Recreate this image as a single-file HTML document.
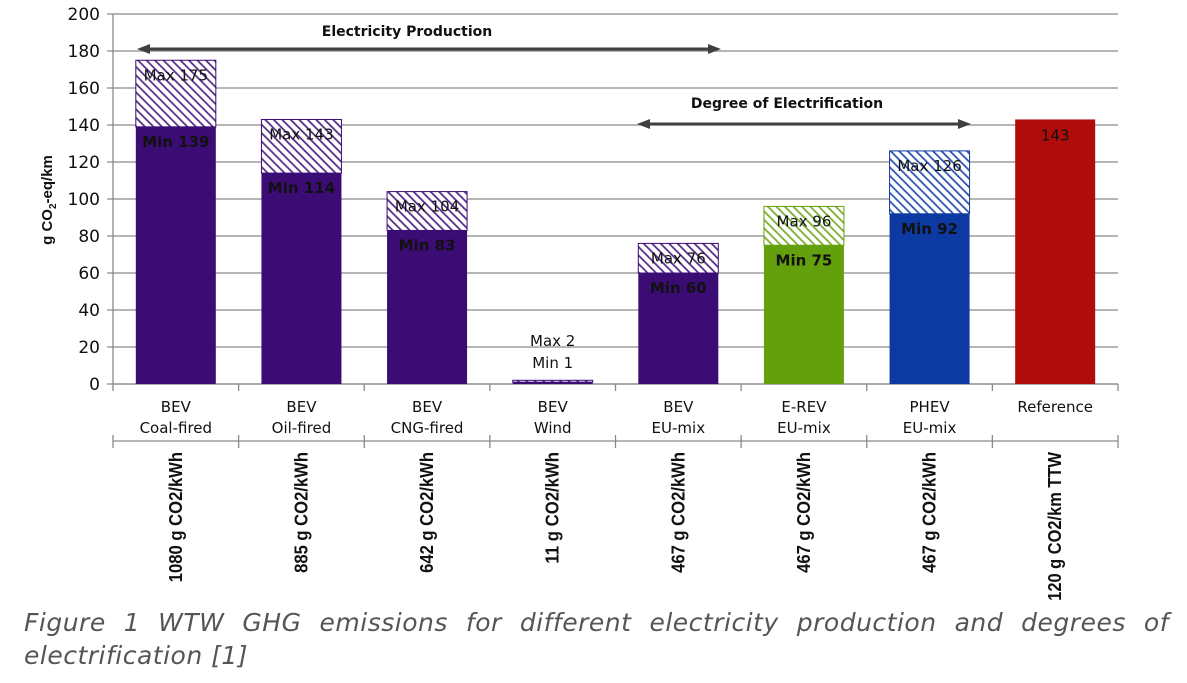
<!DOCTYPE html>
<html><head><meta charset="utf-8"><style>
body{margin:0;background:#fff;width:1187px;height:683px;overflow:hidden;position:relative}
#cap{position:absolute;left:24px;top:606px;width:1145px;font-family:"DejaVu Sans",sans-serif;font-style:italic;font-size:25px;color:#555;text-align:justify;text-align-last:left;line-height:33px;letter-spacing:0.5px}
</style></head><body>
<svg id="chart" width="1187" height="683" style="position:absolute;left:0;top:0" font-family="'DejaVu Sans','Liberation Sans',sans-serif"></svg>
<div id="cap">Figure 1 WTW GHG emissions for different electricity production and degrees of electrification [1]</div>
<script>
const categories=[["BEV","Coal-fired"],["BEV","Oil-fired"],["BEV","CNG-fired"],["BEV","Wind"],["BEV","EU-mix"],["E-REV","EU-mix"],["PHEV","EU-mix"],["Reference"]];
const minValues=[139,114,83,1,60,75,92,143];
const maxValues=[175,143,104,2,76,96,126,143];
const intensityLabels=["1080 g CO2/kWh","885 g CO2/kWh","642 g CO2/kWh","11 g CO2/kWh","467 g CO2/kWh","467 g CO2/kWh","467 g CO2/kWh","120 g CO2/km TTW"];
const yTicks=[0,20,40,60,80,100,120,140,160,180,200];
const colors=["#3a0c74","#3a0c74","#3a0c74","#3a0c74","#3a0c74","#64a00e","#0d3aa2","#b00c0c"];
const svg=document.getElementById('chart');const NS="http://www.w3.org/2000/svg";
const X0=113,X1=1118,Y0=384,Y1=14;
const y=v=>Y0-(v/200)*(Y0-Y1);
const bw=(X1-X0)/categories.length;
const xc=i=>X0+bw*(i+0.5);
function mk(t,a,p){const e=document.createElementNS(NS,t);for(const k in a)e.setAttribute(k,a[k]);(p||svg).appendChild(e);return e;}
const defs=mk('defs',{});
colors.forEach((c,i)=>{const p=mk('pattern',{id:'h'+i,patternUnits:'userSpaceOnUse',width:6,height:6,patternTransform:'rotate(-45)'},defs);mk('rect',{x:0,y:0,width:6,height:6,fill:'#fff'},p);mk('rect',{x:0,y:0,width:1.8,height:6,fill:c,opacity:0.85},p);});
yTicks.forEach(t=>{const l=mk('line',{x1:X0-6,x2:X1,y1:y(t),y2:y(t),stroke:'#8a8a8a','stroke-width':1.3});


const tx=mk('text',{x:100,y:y(t)+6,'text-anchor':'end','font-size':17,fill:'#111'});tx.textContent=t;

});
mk('line',{x1:X0,x2:X0,y1:Y1,y2:Y0,stroke:'#8a8a8a','stroke-width':1.3});
const yt=mk('text',{transform:'translate(52,200) rotate(-90)','text-anchor':'middle','font-size':15,'font-weight':'bold',fill:'#111','font-family':'Liberation Sans,sans-serif'});
yt.innerHTML='g CO<tspan font-size="10" dy="4">2</tspan><tspan dy="-4">-eq/km</tspan>';


[Y0,441].forEach(L=>{mk('line',{x1:X0,x2:X1,y1:L,y2:L,stroke:'#8a8a8a','stroke-width':1.3});
for(let i=0;i<=categories.length;i++)mk('line',{x1:X0+bw*i,x2:X0+bw*i,y1:L-(L==441?6:0),y2:L+7,stroke:'#8a8a8a','stroke-width':1.3});});
categories.forEach((c,i)=>{const bx=xc(i)-40;
if(maxValues[i]>minValues[i]){const r=mk('rect',{x:bx,y:y(maxValues[i]),width:80,height:y(minValues[i])-y(maxValues[i]),fill:'url(#h'+i+')',stroke:colors[i],'stroke-width':1});

}
const b=mk('rect',{x:bx,y:y(minValues[i]),width:80,height:y(0)-y(minValues[i]),fill:colors[i]});


const small=(y(0)-y(maxValues[i]))<30;
if(i==7){const t=mk('text',{x:xc(i),y:y(maxValues[i])+21,'text-anchor':'middle','font-size':15,fill:'#111'});t.textContent=maxValues[i];}
else if(small){let t=mk('text',{x:xc(i),y:346,'text-anchor':'middle','font-size':15,fill:'#111'});t.textContent='Max '+maxValues[i];
t=mk('text',{x:xc(i),y:368,'text-anchor':'middle','font-size':15,fill:'#111'});t.textContent='Min '+minValues[i];}
else{let t=mk('text',{x:xc(i),y:y(maxValues[i])+20,'text-anchor':'middle','font-size':15,fill:'#111'});t.textContent='Max '+maxValues[i];
t=mk('text',{x:xc(i),y:y(minValues[i])+20,'text-anchor':'middle','font-size':15,'font-weight':'bold',fill:'#111'});t.textContent='Min '+minValues[i];}
c.forEach((s,j)=>{const t=mk('text',{x:xc(i),y:412+j*21,'text-anchor':'middle','font-size':15,fill:'#111'});t.textContent=s;

});
const r=mk('text',{transform:`translate(${xc(i)+6},452) rotate(-90)`,'text-anchor':'end','font-size':18,'font-family':'Liberation Sans,sans-serif','font-weight':'bold',fill:'#111',textLength:intensityLabels[i].length*9.3,lengthAdjust:'spacingAndGlyphs'});
r.textContent=intensityLabels[i];

});
function arrow(x1,x2,yy,label,lx,ly,name){const g=mk('g',{});


mk('line',{x1:x1+10,x2:x2-10,y1:yy,y2:yy,stroke:'#404040','stroke-width':3},g);
mk('polygon',{points:`${x1},${yy} ${x1+13},${yy-5} ${x1+13},${yy+5}`,fill:'#404040'},g);
mk('polygon',{points:`${x2},${yy} ${x2-13},${yy-5} ${x2-13},${yy+5}`,fill:'#404040'},g);
const t=mk('text',{x:lx,y:ly,'text-anchor':'middle','font-size':14,'font-weight':'bold',fill:'#111'},g);t.textContent=label;}
arrow(137,721,49,'Electricity Production',407,36,'electricity-production-arrow');
arrow(637,971,124,'Degree of Electrification',787,108,'degree-of-electrification-arrow');
</script>
</body></html>
